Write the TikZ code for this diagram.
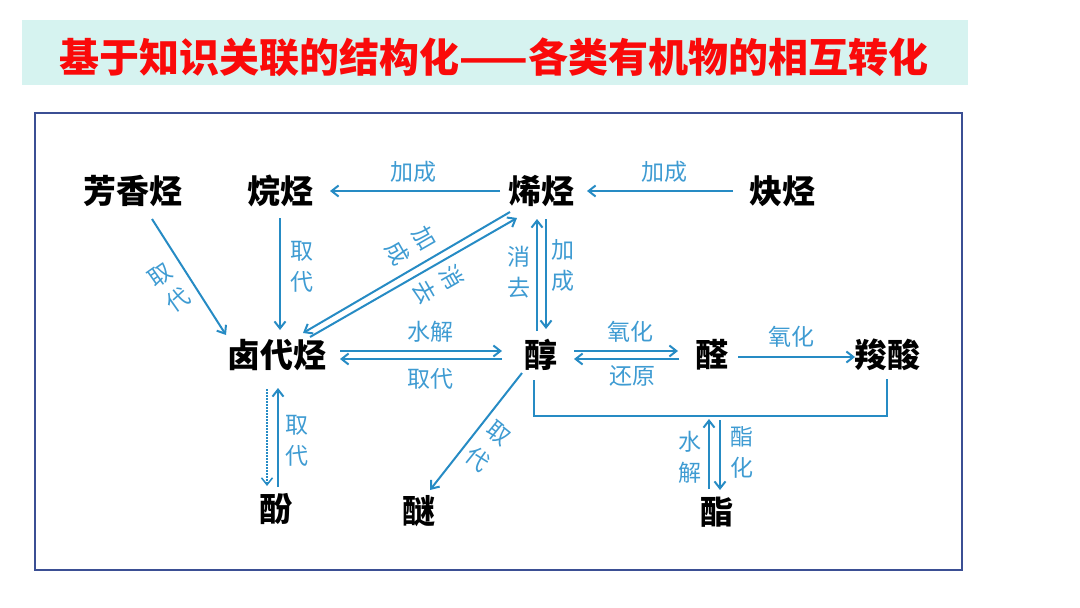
\documentclass[tikz,border=0pt]{standalone}
\usepackage{fontspec}
\setmainfont{Noto Sans CJK SC}
\usetikzlibrary{arrows.meta}
\definecolor{linkblue}{RGB}{38,139,196}
\definecolor{lblblue}{RGB}{62,155,210}
\definecolor{frameblue}{RGB}{59,79,148}
\definecolor{titlebg}{RGB}{214,243,240}
\definecolor{titlered}{RGB}{250,10,10}
\begin{document}
\begin{tikzpicture}[x=1pt,y=-1pt,>={Straight Barb[length=7pt,width=11pt]}]
    \tikzstyle{chem}=[font=\fontsize{33}{36}\selectfont\bfseries,inner sep=0pt]
    \tikzstyle{lbl}=[font=\fontsize{23}{31}\selectfont,text=lblblue,inner sep=0pt,align=center]
    \tikzstyle{link}=[draw=linkblue,line width=2pt]
    \useasboundingbox (0,0) rectangle (1080,608);
    \fill[titlebg] (22,20) rectangle (968,85);
    \node[font=\fontsize{40}{44}\selectfont\bfseries,text=titlered] (title) at (494,57) {基于知识关联的结构化——各类有机物的相互转化};
    \draw[frameblue,line width=2pt] (35,113) rectangle (962,570);
    \node[chem] (fx) at (133,191) {芳香烃};
    \node[chem] (wt) at (280,191) {烷烃};
    \node[chem] (xt) at (541,191) {烯烃};
    \node[chem] (qt) at (782,191) {炔烃};
    \node[chem] (ldt) at (277,355) {卤代烃};
    \node[chem] (c) at (541,355) {醇};
    \node[chem] (q) at (712,355) {醛};
    \node[chem] (s) at (887,355) {羧酸};
    \node[chem] (f) at (276,509) {酚};
    \node[chem] (m) at (419,511) {醚};
    \node[chem] (z) at (717,512) {酯};
    \coordinate (jt) at (715,416);
    % hydrocarbons
    \draw[link,->] ([shift={(-41,0)}]xt.center) -- node[lbl,shift={(-2,-19)}] (l1) {加成} ([shift={(50,0)}]wt.center);
    \draw[link,->] ([shift={(-49,0)}]qt.center) -- node[lbl,shift={(4,-19)}] (l2) {加成} ([shift={(46,0)}]xt.center);
    \draw[link,->] ([shift={(19,28)}]fx.center) -- node[lbl,shift={(-20,11)},rotate=35] (l3) {取\\代} ([shift={(-51,-20)}]ldt.center);
    \draw[link,->] ([shift={(0,27)}]wt.center) -- node[lbl,shift={(22,-7)}] (l4) {取\\代} ([shift={(3,-25)}]ldt.center);
    \draw[link,->] ([shift={(-31,21)}]xt.center) -- node[lbl,shift={(5,-27)},rotate=-60] (l5) {加\\成} ([shift={(26,-22)}]ldt.center);
    \draw[link,->] ([shift={(33,-18)}]ldt.center) -- node[lbl,shift={(25,7)},rotate=-60] (l6) {消\\去} ([shift={(-24,27)}]xt.center);
    % alcohol
    \draw[link,->] ([shift={(63,-4)}]ldt.center) -- node[lbl,shift={(9,-19)}] (l7) {水解} ([shift={(-39,-4)}]c.center);
    \draw[link,->] ([shift={(-39,4)}]c.center) -- node[lbl,shift={(9,20)}] (l8) {取代} ([shift={(63,4)}]ldt.center);
    \draw[link,->] ([shift={(-4,-24)}]c.center) -- node[lbl,shift={(-18,-3)}] (l9) {消\\去} ([shift={(-4,28)}]xt.center);
    \draw[link,->] ([shift={(5,28)}]xt.center) -- node[lbl,shift={(17,-9)}] (l10) {加\\成} ([shift={(5,-26)}]c.center);
    \draw[link,->] ([shift={(33,-4)}]c.center) -- node[lbl,shift={(4,-19)}] (l11) {氧化} ([shift={(-34,-4)}]q.center);
    \draw[link,->] ([shift={(-33,4)}]q.center) -- node[lbl,shift={(6,17)}] (l12) {还原} ([shift={(33,4)}]c.center);
    \draw[link,->] ([shift={(26,2)}]q.center) -- node[lbl,shift={(-5,-20)}] (l13) {氧化} ([shift={(-32,2)}]s.center);
    \draw[link] ([shift={(-7,25)}]c.center) |- (jt) -| ([shift={(0,24)}]s.center);
    \draw[link,->] ([shift={(-8,-23)}]z.center) -- node[lbl,shift={(-19,3)}] (l14) {水\\解} ([shift={(-6,3)}]jt);
    \draw[link,->] ([shift={(5,4)}]jt) -- node[lbl,shift={(22,-3)}] (l15) {酯\\化} ([shift={(3,-22)}]z.center);
    % phenol, ether
    \draw[link,->,line width=1.5pt,dash pattern=on 1.5pt off 1.5pt] ([shift={(-10,34)}]ldt.center) -- ([shift={(-9,-23)}]f.center);
    \draw[link,->] ([shift={(2,-22)}]f.center) -- node[lbl,shift={(19,3)}] (l16) {取\\代} ([shift={(1,33)}]ldt.center);
    \draw[link,->] ([shift={(-19,18)}]c.center) -- node[lbl,font=\fontsize{23}{34}\selectfont,shift={(12,15)},rotate=-39] (l17) {取\\代} ([shift={(11,-21)}]m.center);
\end{tikzpicture}
\end{document}
